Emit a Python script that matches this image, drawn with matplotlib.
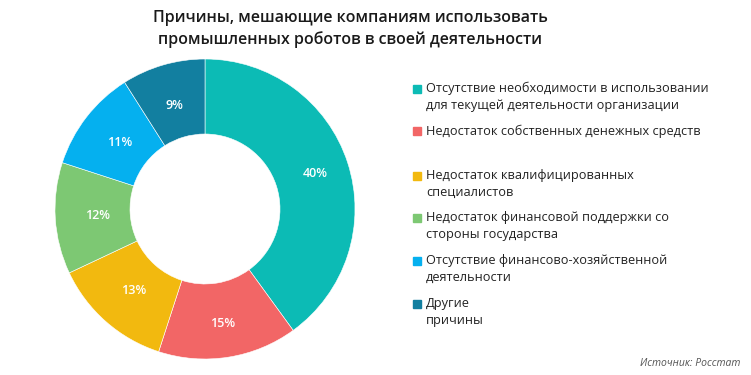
import numpy as np
import matplotlib.pyplot as plt
from matplotlib.patches import Rectangle

plt.rcParams['font.family'] = ['Open Sans', 'DejaVu Sans']

# data
reasons = [
    'Отсутствие необходимости в использовании\nдля текущей деятельности организации',
    'Недостаток собственных денежных средств',
    'Недостаток квалифицированных\nспециалистов',
    'Недостаток финансовой поддержки со\nстороны государства',
    'Отсутствие финансово-хозяйственной\nдеятельности',
    'Другие\nпричины',
]
shares = [40, 15, 13, 12, 11, 9]
colors = ['#0CBBB5', '#F26666', '#F2B90F', '#7DC873', '#05B0EF', '#127FA0']

fig = plt.figure(figsize=(7.51, 3.75), dpi=100)
W, H = 751, 375

# donut
ax = fig.add_axes([(205 - 150) / W, 1 - (209 + 150) / H, 300 / W, 300 / H])
wedges, texts = ax.pie(shares, colors=colors, startangle=90, counterclock=False,
                       radius=1.0, wedgeprops=dict(width=0.5, edgecolor='white', linewidth=0.4))
for w, s in zip(wedges, shares):
    ang = np.deg2rad((w.theta1 + w.theta2) / 2)
    r = 0.77 if s >= 15 else 0.72
    ax.text(r * np.cos(ang), r * np.sin(ang), f'{s}%', ha='center', va='center',
            color='white', fontsize=9, fontweight='semibold')
ax.set_xlim(-1, 1)
ax.set_ylim(-1, 1)
ax.set_aspect('equal')
ax.axis('off')

# title
fig.text(350 / W, 1 - 29 / H, 'Причины, мешающие компаниям использовать\nпромышленных роботов в своей деятельности',
         ha='center', va='center', fontsize=11.5, fontweight='semibold', color='#1a1a1a',
         linespacing=1.45)

# legend
legend_y = [97, 131, 184, 226, 269, 312]
for label, c, y in zip(reasons, colors, legend_y):
    nlines = label.count('\n') + 1
    top = y - (nlines - 1) * 8.5
    fig.patches.append(Rectangle((413 / W, 1 - (top + 4) / H), 8 / W, 8 / H,
                                 transform=fig.transFigure, color=c))
    fig.text(426 / W, 1 - y / H, label, ha='left', va='center', fontsize=9.2,
             color='#222222', linespacing=1.45)

fig.text(740 / W, 1 - 363 / H, 'Источник: Росстат', ha='right', va='center',
         fontsize=7.5, style='italic', color='#555555')

fig.savefig('out.png', dpi=100)
